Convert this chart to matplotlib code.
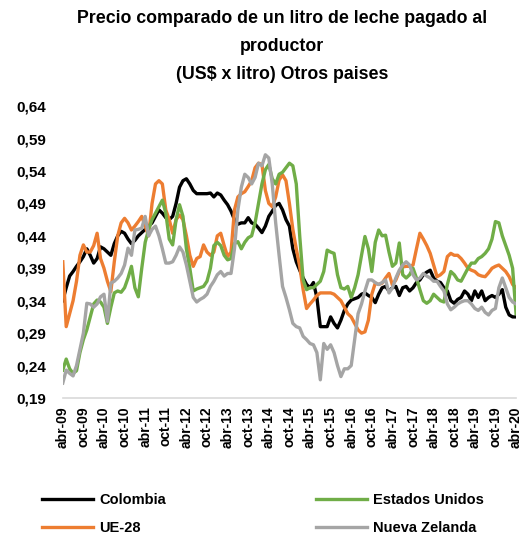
import matplotlib.pyplot as plt
from matplotlib.ticker import FuncFormatter

plt.rcParams['font.family'] = ['Liberation Sans', 'DejaVu Sans']
plt.rcParams['font.weight'] = 'bold'

# monthly prices, abr-09 .. abr-20 (US$ x litro)
colombia = [
    0.34, 0.36, 0.378, 0.385, 0.393, 0.40, 0.408, 0.42, 0.41, 0.398,
    0.405, 0.423, 0.42, 0.415, 0.41, 0.428, 0.44, 0.447, 0.444, 0.435,
    0.428, 0.433, 0.44, 0.445, 0.45, 0.455, 0.46, 0.47, 0.48, 0.475,
    0.468, 0.465, 0.47, 0.49, 0.515, 0.525, 0.528, 0.52, 0.51, 0.505,
    0.505, 0.505, 0.505, 0.506, 0.50, 0.506, 0.503, 0.495, 0.488, 0.478,
    0.465, 0.458, 0.46, 0.46, 0.468, 0.46, 0.458, 0.452, 0.445, 0.455,
    0.47, 0.478, 0.487, 0.49, 0.48, 0.465, 0.455, 0.42, 0.40, 0.387,
    0.375, 0.365, 0.36, 0.368, 0.345, 0.30, 0.30, 0.30, 0.315, 0.305,
    0.298, 0.31, 0.325, 0.335, 0.341, 0.343, 0.345, 0.35, 0.352, 0.348,
    0.345, 0.337, 0.35, 0.36, 0.362, 0.355, 0.36, 0.362, 0.348, 0.36,
    0.362, 0.355, 0.36, 0.368, 0.372, 0.38, 0.384, 0.387, 0.375, 0.37,
    0.368, 0.36, 0.355, 0.34, 0.336, 0.342, 0.345, 0.355, 0.35, 0.34,
    0.355, 0.345, 0.355, 0.34, 0.345, 0.348, 0.345, 0.35, 0.357, 0.33,
    0.318, 0.315, 0.315,
]
estados_unidos = [
    0.233, 0.25, 0.235, 0.228, 0.232, 0.26, 0.28, 0.295, 0.315, 0.335,
    0.341, 0.338, 0.33, 0.305, 0.33, 0.352, 0.355, 0.353, 0.36, 0.375,
    0.393, 0.36, 0.346, 0.39, 0.43, 0.45, 0.465, 0.475, 0.485, 0.495,
    0.475, 0.435, 0.426, 0.465, 0.488, 0.47, 0.42, 0.39, 0.355, 0.358,
    0.36, 0.362, 0.37, 0.39, 0.425, 0.43, 0.425, 0.41, 0.403, 0.405,
    0.428, 0.431, 0.42, 0.43, 0.437, 0.44, 0.46, 0.49, 0.52, 0.542,
    0.55, 0.528, 0.52, 0.535, 0.538, 0.545, 0.552, 0.548, 0.52, 0.44,
    0.372, 0.357, 0.36, 0.36, 0.365, 0.37, 0.385, 0.418, 0.415, 0.413,
    0.38, 0.36, 0.358, 0.362, 0.345, 0.36, 0.38, 0.41, 0.439, 0.42,
    0.385, 0.43, 0.449, 0.44, 0.441, 0.415, 0.393, 0.398, 0.429, 0.38,
    0.375, 0.38, 0.39, 0.375, 0.357, 0.34, 0.336, 0.34, 0.35, 0.345,
    0.34, 0.338, 0.365, 0.385, 0.38, 0.372, 0.37, 0.38, 0.39, 0.398,
    0.398, 0.405, 0.408, 0.413, 0.42, 0.435, 0.462, 0.46, 0.44, 0.425,
    0.41, 0.39, 0.32,
]
ue28 = [
    0.40, 0.30, 0.32, 0.34, 0.37, 0.41, 0.426, 0.415, 0.415, 0.425,
    0.444, 0.405, 0.39, 0.37, 0.354, 0.40, 0.44, 0.46, 0.467, 0.46,
    0.449, 0.455, 0.462, 0.47, 0.455, 0.44, 0.49, 0.52, 0.525, 0.52,
    0.48, 0.465, 0.444, 0.465, 0.472, 0.465, 0.44, 0.41, 0.393, 0.405,
    0.408, 0.426, 0.415, 0.41, 0.415, 0.44, 0.444, 0.425, 0.408, 0.415,
    0.48, 0.50, 0.505, 0.508, 0.516, 0.525, 0.545, 0.552, 0.55, 0.51,
    0.49, 0.485, 0.50, 0.526, 0.534, 0.525, 0.49, 0.45, 0.42, 0.393,
    0.357, 0.328, 0.335, 0.341, 0.348, 0.352, 0.352, 0.352, 0.352, 0.35,
    0.345, 0.34, 0.33, 0.32, 0.315, 0.305, 0.295, 0.29, 0.292, 0.31,
    0.35, 0.367, 0.365, 0.367, 0.375, 0.382, 0.364, 0.372, 0.385, 0.392,
    0.393, 0.393, 0.395, 0.42, 0.444, 0.435, 0.425, 0.413, 0.395, 0.377,
    0.38, 0.385, 0.408, 0.413, 0.41, 0.41, 0.405, 0.398, 0.39, 0.387,
    0.385, 0.38, 0.378, 0.377, 0.383, 0.39, 0.393, 0.395, 0.39, 0.385,
    0.377, 0.365, 0.36,
]
nueva_zelanda = [
    0.213, 0.233, 0.228, 0.224, 0.24, 0.265, 0.29, 0.336, 0.335, 0.33,
    0.335, 0.346, 0.35, 0.308, 0.367, 0.37, 0.375, 0.382, 0.395, 0.421,
    0.41, 0.449, 0.45, 0.452, 0.47, 0.44, 0.45, 0.455, 0.44, 0.42,
    0.398, 0.398, 0.40, 0.41, 0.423, 0.415, 0.395, 0.37, 0.345, 0.338,
    0.342, 0.345, 0.35, 0.362, 0.37, 0.38, 0.385, 0.378, 0.382, 0.382,
    0.42, 0.48, 0.515, 0.535, 0.53, 0.52, 0.53, 0.552, 0.548, 0.565,
    0.56, 0.52, 0.46, 0.41, 0.362, 0.345, 0.326, 0.305, 0.30, 0.298,
    0.285, 0.28, 0.274, 0.272, 0.26, 0.218, 0.274, 0.265, 0.272, 0.26,
    0.24, 0.223, 0.235, 0.235, 0.24, 0.28, 0.32, 0.335, 0.355, 0.372,
    0.372, 0.368, 0.365, 0.368, 0.372, 0.352, 0.36, 0.375, 0.387, 0.395,
    0.40, 0.395, 0.38, 0.372, 0.375, 0.382, 0.378, 0.375, 0.37, 0.37,
    0.362, 0.355, 0.335, 0.326, 0.33, 0.335, 0.338, 0.34, 0.34, 0.335,
    0.328, 0.325, 0.33, 0.322, 0.318, 0.325, 0.328, 0.36, 0.375, 0.36,
    0.345, 0.338, 0.335,
]

tick_labels = [
    'abr-09', 'oct-09', 'abr-10', 'oct-10', 'abr-11', 'oct-11', 'abr-12',
    'oct-12', 'abr-13', 'oct-13', 'abr-14', 'oct-14', 'abr-15', 'oct-15',
    'abr-16', 'oct-16', 'abr-17', 'oct-17', 'abr-18', 'oct-18', 'abr-19',
    'oct-19', 'abr-20',
]
y_ticks = [0.19, 0.24, 0.29, 0.34, 0.39, 0.44, 0.49, 0.54, 0.59, 0.64]

months = list(range(len(colombia)))

fig = plt.figure(figsize=(5.32, 5.36), dpi=100)
ax = fig.add_axes([0.118, 0.2575, 0.852, 0.5445])

lw = 2.4
ax.plot(months, colombia, color='black', lw=lw, label='Colombia')
ax.plot(months, ue28, color='#ED7D31', lw=lw, label='UE-28')
ax.plot(months, estados_unidos, color='#70AD47', lw=lw, label='Estados Unidos')
ax.plot(months, nueva_zelanda, color='#A5A5A5', lw=lw, label='Nueva Zelanda')

ax.set_xlim(0, len(colombia) - 1)
ax.set_ylim(0.19, 0.64)
ax.set_yticks(y_ticks)
ax.yaxis.set_major_formatter(FuncFormatter(lambda v, p: f'{v:.2f}'.replace('.', ',')))
ax.set_xticks(range(0, len(colombia), 6))
ax.set_xticklabels(tick_labels, rotation=90)
ax.tick_params(axis='x', length=0, labelsize=10, pad=6)
ax.tick_params(axis='y', length=0, labelsize=11, pad=12)

for side in ['top', 'right', 'left']:
    ax.spines[side].set_visible(False)
ax.spines['bottom'].set_color('#D9D9D9')
ax.spines['bottom'].set_linewidth(1.2)

fig.text(0.53, 0.982, 'Precio comparado de un litro de leche pagado al\nproductor\n(US$ x litro) Otros paises',
         ha='center', va='top', fontsize=12.8, fontweight='bold', linespacing=1.85)

fig.legend(loc='lower left', bbox_to_anchor=(0.055, -0.022), ncol=2, frameon=False,
           fontsize=10.5, handlelength=3.5, handletextpad=0.4, columnspacing=10.3,
           labelspacing=0.95)

fig.savefig('out.png', dpi=100)
